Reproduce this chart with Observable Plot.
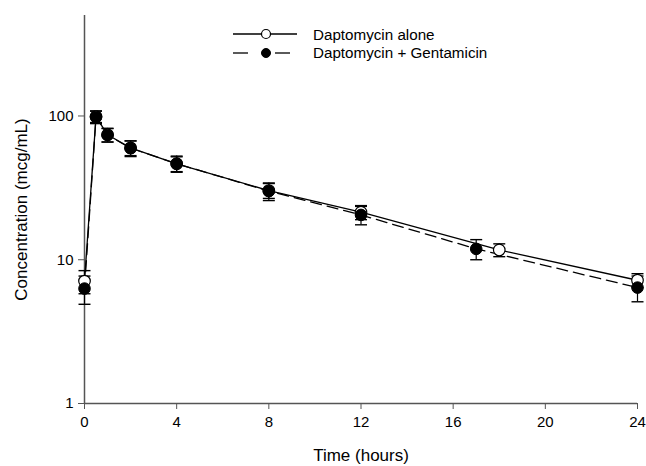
<!DOCTYPE html>
<html>
<head>
<meta charset="utf-8">
<script src="https://cdn.jsdelivr.net/npm/d3@7"></script>
<script src="https://cdn.jsdelivr.net/npm/@observablehq/plot@0.6"></script>
<style>
  html, body { margin: 0; padding: 0; background: #fff; }
  #wrap { position: relative; width: 646px; height: 466px; font-family: "Liberation Sans", Arial, sans-serif; }
  #legend { position: absolute; left: 233px; top: 25px; font-size: 15.2px; color: #000; }
  #legend .row { display: flex; align-items: center; height: 18.5px; }
  #legend svg { width: 66px; height: 14px; margin-right: 14px; }
</style>
</head>
<body>
<div id="wrap"><div id="legend"></div></div>
<script>
// Data
const seriesNames = ["Daptomycin alone", "Daptomycin + Gentamicin"];
const timeAlone = [0, 0.5, 1, 2, 4, 8, 12, 18, 24];
const meanAlone = [7.1, 99, 74, 60, 46.5, 30.3, 21.4, 11.7, 7.2];
const sdAlone   = [1.3, 9, 8, 7, 5.5, 3.6, 2.4, 1.2, 0.8];
const timeCombo = [0, 0.5, 1, 2, 4, 8, 12, 17, 24];
const meanCombo = [6.3, 98.5, 73.8, 59.7, 46.6, 30.0, 20.5, 11.9, 6.4];
const sdCombo   = [1.4, 10, 8, 7.5, 6, 4.2, 3.0, 1.9, 1.3];
const xTicks = [0, 4, 8, 12, 16, 20, 24];
const yTicks = [1, 10, 100];

const alone = timeAlone.map((t, i) => ({t, m: meanAlone[i], lo: meanAlone[i] - sdAlone[i], hi: meanAlone[i] + sdAlone[i]}));
const combo = timeCombo.map((t, i) => ({t, m: meanCombo[i], lo: meanCombo[i] - sdCombo[i], hi: meanCombo[i] + sdCombo[i]}));

const cap = { draw(ctx, size) { const r = Math.sqrt(size / Math.PI); ctx.moveTo(-r, 0); ctx.lineTo(r, 0); } };
const axisColor = "#555";

function errMarks(data) {
  return [
    Plot.ruleX(data, {x: "t", y1: "lo", y2: "hi", stroke: "#000", strokeWidth: 1.2}),
    Plot.dot(data, {x: "t", y: "hi", symbol: cap, r: 6, stroke: "#000", strokeWidth: 1.4}),
    Plot.dot(data, {x: "t", y: "lo", symbol: cap, r: 6, stroke: "#000", strokeWidth: 1.4})
  ];
}

const chart = Plot.plot({
  width: 646,
  height: 466,
  marginLeft: 84,
  marginRight: 9,
  marginTop: 15,
  marginBottom: 63,
  style: {fontFamily: "'Liberation Sans', Arial, sans-serif", fontSize: "15px", color: "#000", background: "#fff"},
  x: {domain: [0, 24]},
  y: {type: "log", domain: [1, 500]},
  marks: [
    Plot.ruleY([1], {stroke: axisColor, strokeWidth: 1.5}),
    Plot.ruleX([0], {stroke: axisColor, strokeWidth: 1.5}),
    Plot.axisX({ticks: xTicks, tickSize: 6, tickPadding: 7, stroke: axisColor, fontSize: 15,
      label: "Time (hours)", labelAnchor: "center", labelArrow: "none", labelOffset: 57}),
    Plot.axisY({ticks: yTicks, tickFormat: d => String(d), tickSize: 6, tickPadding: 5, stroke: axisColor, fontSize: 15,
      label: "Concentration (mcg/mL)", labelAnchor: "center", labelArrow: "none", labelOffset: 70}),
    ...errMarks(alone),
    ...errMarks(combo),
    Plot.line(alone, {x: "t", y: "m", stroke: "#000", strokeWidth: 1.3}),
    Plot.line(combo, {x: "t", y: "m", stroke: "#000", strokeWidth: 1.3, strokeDasharray: "11,6"}),
    Plot.dot(alone, {x: "t", y: "m", r: 5.8, fill: "#fff", stroke: "#000", strokeWidth: 1.2}),
    Plot.dot(combo, {x: "t", y: "m", r: 5.8, fill: "#000", stroke: "#000", strokeWidth: 1})
  ]
});
chart.querySelectorAll('[aria-label="x-axis label"] text, [aria-label="y-axis label"] text').forEach(t => t.style.fontSize = "17px");
chart.querySelectorAll('[aria-label="x-axis label"], [aria-label="y-axis label"]').forEach(g => g.style.fontSize = "17px");
document.getElementById("wrap").prepend(chart);

// Legend (HTML overlay)
const legend = document.getElementById("legend");
seriesNames.forEach((name, i) => {
  const row = document.createElement("div");
  row.className = "row";
  const svg = i === 0
    ? `<svg viewBox="0 0 66 14"><line x1="0" y1="7" x2="64" y2="7" stroke="#000" stroke-width="1.3"/><circle cx="33" cy="7" r="4.5" fill="#fff" stroke="#000" stroke-width="1.2"/></svg>`
    : `<svg viewBox="0 0 66 14"><line x1="0" y1="7" x2="15" y2="7" stroke="#000" stroke-width="1.3"/><line x1="42" y1="7" x2="57" y2="7" stroke="#000" stroke-width="1.3"/><circle cx="33" cy="7" r="4.5" fill="#000" stroke="#000"/></svg>`;
  row.innerHTML = svg + `<span>${name}</span>`;
  legend.appendChild(row);
});
</script>
</body>
</html>
